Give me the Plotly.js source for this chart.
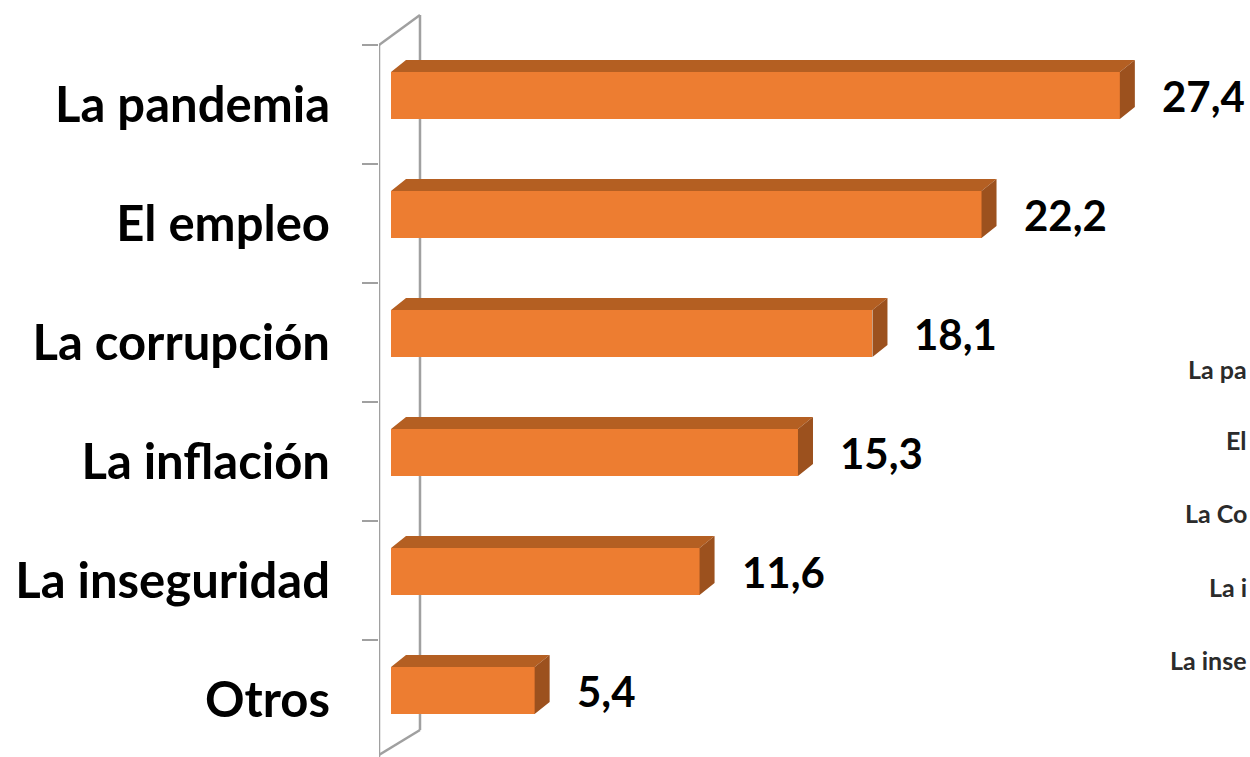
<!DOCTYPE html>
<html>
<head>
<meta charset="utf-8">
<script src="https://cdn.plot.ly/plotly-3.0.1.min.js"></script>
<style>html,body{margin:0;padding:0;background:#fff;}#chart{width:1250px;height:757px;}</style>
</head>
<body>
<div id="chart"></div>
<script>
// Data
var categories = ["La pandemia", "El empleo", "La corrupción", "La inflación", "La inseguridad", "Otros"];
var values = [27.4, 22.2, 18.1, 15.3, 11.6, 5.4];
var valueLabels = ["27,4", "22,2", "18,1", "15,3", "11,6", "5,4"];
// partially visible labels of a second chart at the right edge
var ghostLabels = ["La pa", "El", "La Co", "La i", "La inse"];

// Styling / geometry (not data)
var FRONT = "#ED7D31", TOP = "#B45F22", SIDE = "#9C511E", WALL = "#A0A0A0";
var barW = 0.395, barOff = -0.273;   // bar thickness and offset in category units
var dX = 0.564, dY = 0.101;          // 3D depth in data units
var FONT = "Lato, 'Open Sans', sans-serif";

var pos = categories.map(function (c, i) { return i; });

var topX = [], topY = [], sideX = [], sideY = [];
values.forEach(function (v, i) {
  var yT = pos[i] + barOff, yB = pos[i] + barOff + barW;
  topX.push(0, v, v + dX, dX, 0, null);
  topY.push(yT, yT, yT - dY, yT - dY, yT, null);
  sideX.push(v, v + dX, v + dX, v, v, null);
  sideY.push(yT, yT - dY, yB - dY, yB, yT, null);
});

var traces = [
  { type: "scatter", x: topX, y: topY, mode: "lines", fill: "toself", fillcolor: TOP,
    line: { width: 0, color: TOP }, hoverinfo: "skip", showlegend: false },
  { type: "scatter", x: sideX, y: sideY, mode: "lines", fill: "toself", fillcolor: SIDE,
    line: { width: 0, color: SIDE }, hoverinfo: "skip", showlegend: false },
  { type: "bar", orientation: "h", x: values, y: pos, width: barW, offset: barOff,
    marker: { color: FRONT, line: { width: 0 } }, hoverinfo: "x", showlegend: false }
];

var annotations = values.map(function (v, i) {
  return { x: v, y: pos[i] + barOff + barW / 2, xref: "x", yref: "y", text: valueLabels[i],
    showarrow: false, xanchor: "left", yanchor: "middle", xshift: 40,
    font: { family: FONT, size: 42, color: "#000", weight: 700 } };
});
var ghostY = [369, 440, 513, 587, 660];
ghostLabels.forEach(function (t, i) {
  annotations.push({ x: 1, y: 1 - ghostY[i] / 757, xref: "paper", yref: "paper", xshift: -1,
    text: t, showarrow: false, xanchor: "right", yanchor: "middle",
    font: { family: FONT, size: 25, color: "#2b2b2b", weight: 700 } });
});

// wall lines
var xFront = -0.451, xBack = 1.09;
var shapes = [
  { type: "line", xref: "x", yref: "y", x0: xFront, x1: xFront, y0: -0.5, y1: 5.6, line: { color: WALL, width: 2.5 }, layer: "below" },
  { type: "line", xref: "x", yref: "y", x0: xFront, x1: xBack, y0: -0.5, y1: -0.752, line: { color: WALL, width: 2.5 }, layer: "below" },
  { type: "line", xref: "x", yref: "y", x0: xBack, x1: xBack, y0: -0.752, y1: 5.256, line: { color: WALL, width: 2.5 }, layer: "below" },
  { type: "line", xref: "x", yref: "y", x0: xBack, x1: xFront, y0: 5.256, y1: 5.466, line: { color: WALL, width: 2.5 }, layer: "below" }
];

var layout = {
  width: 1250, height: 757,
  margin: { l: 379, r: 0, t: 0, b: 0, pad: 0 },
  paper_bgcolor: "#fff", plot_bgcolor: "#fff",
  showlegend: false,
  xaxis: { range: [-0.4511, 32.293], visible: false, fixedrange: true },
  yaxis: {
    range: [5.483, -0.878], tickmode: "array", tickvals: pos, ticktext: categories,
    ticks: "", showgrid: false, zeroline: false, showline: false,
    tickfont: { family: FONT, size: 49, color: "#000", weight: 700 },
    ticklabelstandoff: 48,
    minor: { tickmode: "array", tickvals: [-0.5, 0.5, 1.5, 2.5, 3.5, 4.5, 5.5], ticks: "outside",
      ticklen: 16, tickwidth: 2.5, tickcolor: WALL, showgrid: false },
    fixedrange: true
  },
  shapes: shapes,
  annotations: annotations,
  bargap: 0
};

Plotly.newPlot("chart", traces, layout, { displayModeBar: false, staticPlot: true });
</script>
</body>
</html>
